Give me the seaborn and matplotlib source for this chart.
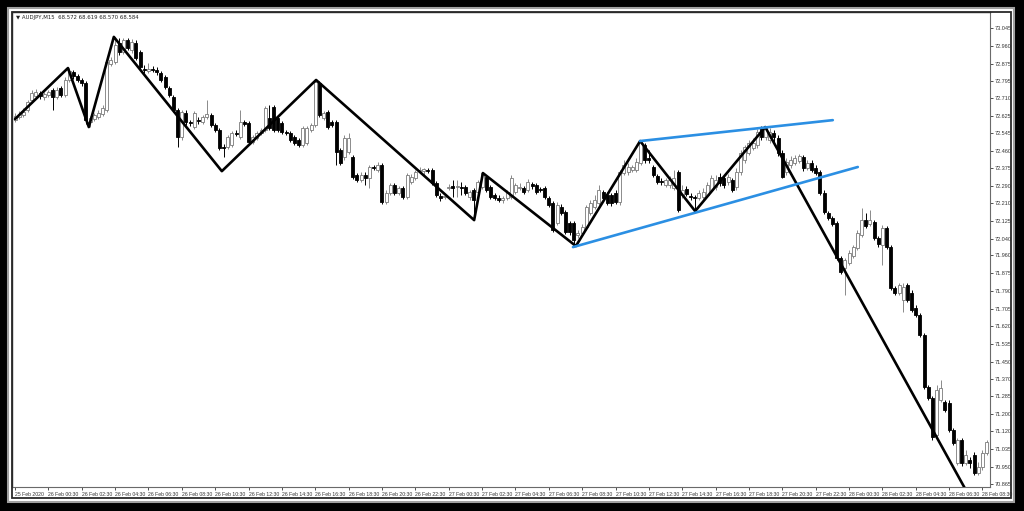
import numpy as np
import pandas as pd
import matplotlib.pyplot as plt
from matplotlib.patches import Rectangle
import seaborn as sns

sns.set_style("white")
plt.rcParams["font.family"] = ["Liberation Sans Narrow", "Liberation Sans", "DejaVu Sans"]

# ── data: AUDJPY M15 candles ──────────────────────────────────────────────────
opens = [
    72.606, 72.621, 72.630, 72.654, 72.702, 72.721, 72.736, 72.717, 72.726, 72.750,
    72.717, 72.760, 72.726, 72.798, 72.835, 72.816, 72.798, 72.784, 72.596, 72.611,
    72.621, 72.635, 72.654, 72.874, 72.883, 72.975, 72.931, 72.989, 72.941, 72.975,
    72.931, 72.850, 72.840, 72.850, 72.845, 72.831, 72.812, 72.760, 72.717, 72.654,
    72.525, 72.640, 72.596, 72.573, 72.606, 72.596, 72.621, 72.630, 72.582, 72.559,
    72.478, 72.478, 72.487, 72.544, 72.525, 72.596, 72.592, 72.501, 72.520, 72.544,
    72.559, 72.616, 72.669, 72.616, 72.592, 72.549, 72.544, 72.525, 72.511, 72.487,
    72.497, 72.559, 72.582, 72.784, 72.616, 72.644, 72.596, 72.596, 72.463, 72.430,
    72.453, 72.430, 72.343, 72.320, 72.343, 72.329, 72.382, 72.367, 72.391, 72.214,
    72.258, 72.296, 72.258, 72.282, 72.239, 72.310, 72.329, 72.362, 72.362, 72.367,
    72.367, 72.306, 72.243, 72.239, 72.282, 72.291, 72.287, 72.287, 72.287, 72.239,
    72.272, 72.263, 72.287, 72.334, 72.287, 72.248, 72.234, 72.224, 72.234, 72.239,
    72.263, 72.282, 72.282, 72.272, 72.301, 72.296, 72.277, 72.282, 72.234, 72.210,
    72.114, 72.190, 72.166, 72.114, 72.114, 72.057, 72.066, 72.095, 72.162, 72.190,
    72.210, 72.263, 72.248, 72.248, 72.258, 72.214, 72.353, 72.357, 72.367, 72.367,
    72.401, 72.487, 72.425, 72.382, 72.338, 72.315, 72.296, 72.296, 72.282, 72.357,
    72.248, 72.277, 72.243, 72.239, 72.234, 72.239, 72.248, 72.272, 72.287, 72.334,
    72.329, 72.310, 72.320, 72.287, 72.357, 72.415, 72.449, 72.473, 72.487, 72.568,
    72.525, 72.511, 72.544, 72.520, 72.449, 72.357, 72.391, 72.401, 72.410, 72.430,
    72.377, 72.401, 72.377, 72.357, 72.258, 72.162, 72.138, 72.114, 71.947, 71.899,
    71.923, 71.956, 71.995, 72.057, 72.128, 72.109, 72.118, 72.043, 72.009, 72.090,
    71.999, 71.804, 71.780, 71.746, 71.818, 71.780, 71.708, 71.674, 71.579, 71.330,
    71.278, 71.101, 71.268, 71.258, 71.254, 71.125, 70.967, 71.077, 70.967, 70.981,
    71.005, 70.919, 70.948, 71.015,
]
highs = [
    72.640, 72.649, 72.664, 72.702, 72.750, 72.755, 72.745, 72.740, 72.750, 72.760,
    72.765, 72.769, 72.812, 72.855, 72.845, 72.826, 72.807, 72.793, 72.625, 72.640,
    72.654, 72.678, 72.893, 72.908, 73.004, 72.999, 72.999, 72.999, 72.994, 72.989,
    72.941, 72.869, 72.879, 72.864, 72.859, 72.840, 72.821, 72.769, 72.726, 72.664,
    72.654, 72.654, 72.606, 72.649, 72.621, 72.630, 72.702, 72.640, 72.592, 72.568,
    72.492, 72.535, 72.554, 72.559, 72.654, 72.606, 72.601, 72.535, 72.554, 72.568,
    72.673, 72.678, 72.678, 72.625, 72.601, 72.559, 72.554, 72.535, 72.520, 72.577,
    72.577, 72.592, 72.798, 72.793, 72.649, 72.654, 72.606, 72.606, 72.473, 72.535,
    72.544, 72.439, 72.353, 72.357, 72.357, 72.391, 72.391, 72.405, 72.401, 72.272,
    72.306, 72.306, 72.291, 72.291, 72.353, 72.348, 72.367, 72.382, 72.377, 72.377,
    72.377, 72.315, 72.258, 72.253, 72.301, 72.320, 72.320, 72.310, 72.296, 72.272,
    72.282, 72.320, 72.357, 72.343, 72.296, 72.258, 72.248, 72.243, 72.272, 72.343,
    72.306, 72.306, 72.291, 72.324, 72.310, 72.306, 72.287, 72.291, 72.243, 72.219,
    72.214, 72.205, 72.176, 72.123, 72.123, 72.081, 72.109, 72.200, 72.224, 72.248,
    72.296, 72.272, 72.263, 72.258, 72.272, 72.367, 72.415, 72.401, 72.391, 72.425,
    72.506, 72.497, 72.463, 72.391, 72.348, 72.329, 72.329, 72.338, 72.367, 72.367,
    72.296, 72.291, 72.258, 72.248, 72.272, 72.282, 72.310, 72.343, 72.343, 72.353,
    72.338, 72.348, 72.329, 72.377, 72.463, 72.487, 72.511, 72.520, 72.563, 72.577,
    72.577, 72.568, 72.559, 72.535, 72.463, 72.425, 72.434, 72.439, 72.444, 72.439,
    72.415, 72.415, 72.391, 72.367, 72.272, 72.171, 72.147, 72.123, 71.956, 71.947,
    71.985, 72.009, 72.081, 72.186, 72.162, 72.176, 72.128, 72.052, 72.104, 72.099,
    72.009, 71.813, 71.828, 71.828, 71.828, 71.794, 71.722, 71.684, 71.589, 71.340,
    71.287, 71.340, 71.364, 71.268, 71.268, 71.134, 71.087, 71.087, 71.029, 70.995,
    71.019, 70.971, 71.029, 71.077,
]
lows = [
    72.596, 72.611, 72.621, 72.644, 72.688, 72.712, 72.707, 72.702, 72.717, 72.654,
    72.707, 72.717, 72.717, 72.788, 72.802, 72.788, 72.769, 72.587, 72.573, 72.601,
    72.611, 72.625, 72.644, 72.864, 72.874, 72.917, 72.922, 72.941, 72.927, 72.893,
    72.850, 72.831, 72.831, 72.835, 72.821, 72.788, 72.755, 72.717, 72.644, 72.477,
    72.511, 72.582, 72.577, 72.563, 72.587, 72.587, 72.611, 72.573, 72.549, 72.463,
    72.430, 72.468, 72.478, 72.530, 72.516, 72.577, 72.492, 72.492, 72.511, 72.535,
    72.549, 72.559, 72.549, 72.549, 72.540, 72.535, 72.501, 72.487, 72.478, 72.478,
    72.487, 72.549, 72.573, 72.621, 72.606, 72.563, 72.573, 72.391, 72.391, 72.415,
    72.444, 72.324, 72.310, 72.310, 72.296, 72.282, 72.367, 72.357, 72.205, 72.205,
    72.248, 72.248, 72.248, 72.229, 72.229, 72.301, 72.320, 72.353, 72.343, 72.353,
    72.296, 72.239, 72.219, 72.229, 72.272, 72.239, 72.239, 72.248, 72.248, 72.224,
    72.138, 72.253, 72.277, 72.263, 72.229, 72.224, 72.214, 72.210, 72.224, 72.229,
    72.253, 72.272, 72.253, 72.263, 72.277, 72.253, 72.263, 72.229, 72.190, 72.071,
    72.104, 72.152, 72.061, 72.057, 71.999, 72.043, 72.057, 72.081, 72.152, 72.181,
    72.200, 72.224, 72.200, 72.195, 72.205, 72.200, 72.343, 72.343, 72.357, 72.357,
    72.391, 72.401, 72.401, 72.334, 72.301, 72.296, 72.287, 72.282, 72.272, 72.166,
    72.234, 72.243, 72.224, 72.176, 72.224, 72.224, 72.239, 72.263, 72.272, 72.291,
    72.282, 72.296, 72.263, 72.272, 72.343, 72.401, 72.439, 72.463, 72.473, 72.511,
    72.511, 72.497, 72.487, 72.434, 72.329, 72.343, 72.377, 72.391, 72.401, 72.362,
    72.367, 72.357, 72.343, 72.248, 72.157, 72.128, 72.099, 71.937, 71.870, 71.770,
    71.913, 71.947, 71.985, 72.047, 72.090, 72.099, 72.033, 71.999, 71.913, 71.990,
    71.794, 71.770, 71.770, 71.688, 71.736, 71.688, 71.665, 71.569, 71.321, 71.268,
    71.077, 71.087, 71.258, 71.210, 71.115, 71.053, 70.957, 70.952, 70.957, 70.943,
    70.909, 70.909, 70.933, 71.005,
]
closes = [
    72.625, 72.635, 72.644, 72.692, 72.736, 72.740, 72.721, 72.731, 72.740, 72.717,
    72.750, 72.726, 72.798, 72.840, 72.816, 72.798, 72.784, 72.606, 72.616, 72.630,
    72.640, 72.664, 72.883, 72.893, 72.965, 72.931, 72.989, 72.951, 72.979, 72.903,
    72.859, 72.845, 72.850, 72.845, 72.835, 72.798, 72.765, 72.726, 72.654, 72.525,
    72.644, 72.596, 72.592, 72.640, 72.601, 72.621, 72.635, 72.582, 72.559, 72.473,
    72.473, 72.525, 72.544, 72.540, 72.596, 72.587, 72.501, 72.525, 72.544, 72.559,
    72.664, 72.568, 72.559, 72.559, 72.549, 72.544, 72.511, 72.497, 72.487, 72.568,
    72.568, 72.582, 72.788, 72.630, 72.640, 72.573, 72.582, 72.453, 72.401, 72.520,
    72.520, 72.334, 72.320, 72.343, 72.329, 72.382, 72.377, 72.391, 72.214, 72.258,
    72.296, 72.258, 72.282, 72.239, 72.343, 72.334, 72.357, 72.367, 72.372, 72.362,
    72.306, 72.248, 72.234, 72.243, 72.287, 72.282, 72.291, 72.282, 72.258, 72.263,
    72.224, 72.310, 72.353, 72.272, 72.239, 72.234, 72.224, 72.234, 72.263, 72.329,
    72.296, 72.287, 72.263, 72.310, 72.291, 72.263, 72.272, 72.239, 72.200, 72.081,
    72.200, 72.162, 72.071, 72.071, 72.033, 72.066, 72.095, 72.190, 72.210, 72.224,
    72.272, 72.234, 72.210, 72.210, 72.214, 72.357, 72.391, 72.382, 72.382, 72.405,
    72.501, 72.415, 72.415, 72.343, 72.310, 72.310, 72.320, 72.320, 72.329, 72.176,
    72.272, 72.253, 72.239, 72.234, 72.258, 72.263, 72.296, 72.329, 72.320, 72.306,
    72.296, 72.334, 72.272, 72.357, 72.449, 72.478, 72.497, 72.497, 72.549, 72.525,
    72.568, 72.549, 72.525, 72.449, 72.334, 72.405, 72.415, 72.425, 72.434, 72.377,
    72.401, 72.367, 72.353, 72.258, 72.166, 72.138, 72.109, 71.947, 71.880, 71.937,
    71.971, 71.999, 72.066, 72.128, 72.099, 72.128, 72.043, 72.014, 72.090, 71.999,
    71.804, 71.780, 71.818, 71.809, 71.746, 71.698, 71.674, 71.579, 71.330, 71.278,
    71.092, 71.316, 71.326, 71.220, 71.125, 71.063, 71.077, 70.967, 71.005, 70.967,
    70.919, 70.948, 71.015, 71.067,
]

time_labels = [
    "25 Feb 2020",
    "26 Feb 00:30", "26 Feb 02:30", "26 Feb 04:30", "26 Feb 06:30", "26 Feb 08:30",
    "26 Feb 10:30", "26 Feb 12:30", "26 Feb 14:30", "26 Feb 16:30", "26 Feb 18:30",
    "26 Feb 20:30", "26 Feb 22:30",
    "27 Feb 00:30", "27 Feb 02:30", "27 Feb 04:30", "27 Feb 06:30", "27 Feb 08:30",
    "27 Feb 10:30", "27 Feb 12:30", "27 Feb 14:30", "27 Feb 16:30", "27 Feb 18:30",
    "27 Feb 20:30", "27 Feb 22:30",
    "28 Feb 00:30", "28 Feb 02:30", "28 Feb 04:30", "28 Feb 06:30", "28 Feb 08:30",
]
price_ticks = [
    73.045, 72.960, 72.875, 72.795, 72.710, 72.625, 72.545, 72.460, 72.375,
    72.290, 72.210, 72.125, 72.040, 71.960, 71.875, 71.790, 71.705, 71.620,
    71.535, 71.450, 71.370, 71.285, 71.200, 71.120, 71.035, 70.950, 70.865,
]

# zigzag swing points (bar index, price) and the two wedge lines
zigzag_bar = [0, 12.7, 17.7, 23.7, 49.6, 72.2, 110.1, 112.2, 134.5, 149.9, 163.1, 179.9, 227.8]
zigzag_price = [72.611, 72.855, 72.573, 73.004, 72.362, 72.798, 72.128, 72.353,
                72.004, 72.506, 72.171, 72.573, 70.845]
upper_bar = [149.9, 196.1]
upper_price = [72.506, 72.606]
lower_bar = [133.8, 202.1]
lower_price = [71.999, 72.382]

df = pd.DataFrame({"open": opens, "high": highs, "low": lows, "close": closes})
df["bar"] = np.arange(len(df))
df["bull"] = df["close"] >= df["open"]
df["body_lo"] = df[["open", "close"]].min(axis=1)
df["body_h"] = (df["close"] - df["open"]).abs().clip(lower=0.003)

# ── figure: black screenshot border, white terminal window ────────────────────
W, H = 1024, 511
fig = plt.figure(figsize=(W / 100, H / 100), dpi=100, facecolor="black")


def px_box(x0, y0, x1, y1):
    return [x0 / W, 1 - y1 / H, (x1 - x0) / W, (y1 - y0) / H]


b = px_box(8, 8, 1014, 502)
fig.patches.append(Rectangle((b[0], b[1]), b[2], b[3], transform=fig.transFigure,
                             facecolor="white", edgecolor="#a0a0a0", lw=1.5, zorder=-1))
b = px_box(12, 12, 1011, 498)
fig.patches.append(Rectangle((b[0], b[1]), b[2], b[3], transform=fig.transFigure,
                             facecolor="none", edgecolor="#2a2a2a", lw=1.3, zorder=5))

ax = fig.add_axes(px_box(12, 12, 990, 487))
ax.set_facecolor("white")

bull = df[df["bull"]]
bear = df[~df["bull"]]
ax.vlines(bull["bar"], bull["low"], bull["high"], color="#8a8a8a", lw=0.7, zorder=2)
ax.vlines(bear["bar"], bear["low"], bear["high"], color="black", lw=0.7, zorder=2)
ax.bar(bull["bar"], bull["body_h"], bottom=bull["body_lo"], width=0.72,
       facecolor="white", edgecolor="#7a7a7a", lw=0.6, zorder=3)
ax.bar(bear["bar"], bear["body_h"], bottom=bear["body_lo"], width=0.72,
       facecolor="black", edgecolor="black", lw=0.6, zorder=3)

# zigzag and wedge lines on top
sns.lineplot(x=zigzag_bar, y=zigzag_price, ax=ax, color="black", lw=1.9,
             sort=False, estimator=None, zorder=4)
sns.lineplot(x=upper_bar, y=upper_price, ax=ax, color="#2b8fe3", lw=1.9,
             sort=False, estimator=None, zorder=4)
sns.lineplot(x=lower_bar, y=lower_price, ax=ax, color="#2b8fe3", lw=1.9,
             sort=False, estimator=None, zorder=4)

ax.set_xlim(-0.72, 233.8)
ax.set_ylim(70.852, 73.123)

ax.yaxis.tick_right()
ax.set_yticks(price_ticks)
ax.set_yticklabels([f"{v:.3f}" for v in price_ticks])
ax.set_xticks(np.arange(len(time_labels)) * 8)
ax.set_xticklabels(time_labels, ha="left")
ax.tick_params(axis="y", right=True, left=False, direction="out", length=2.5, width=0.6,
               pad=1.2, labelsize=4.0, colors="#333333")
ax.tick_params(axis="x", bottom=True, direction="out", length=2.5, width=0.6,
               pad=1.2, labelsize=3.7, colors="#333333")
ax.set_xlabel("")
ax.set_ylabel("")

for side in ["left", "top"]:
    ax.spines[side].set_color("#2a2a2a")
    ax.spines[side].set_linewidth(1.0)
for side in ["right", "bottom"]:
    ax.spines[side].set_color("#6a6a6a")
    ax.spines[side].set_linewidth(0.8)

ax.text(0.004, 0.989, "\u25bc AUDJPY,M15  68.572 68.619 68.570 68.584",
        transform=ax.transAxes, fontsize=3.9, va="center", ha="left", color="#222222",
        family=["Liberation Sans Narrow", "DejaVu Sans"])

fig.savefig("out.png", dpi=100, facecolor="black")
